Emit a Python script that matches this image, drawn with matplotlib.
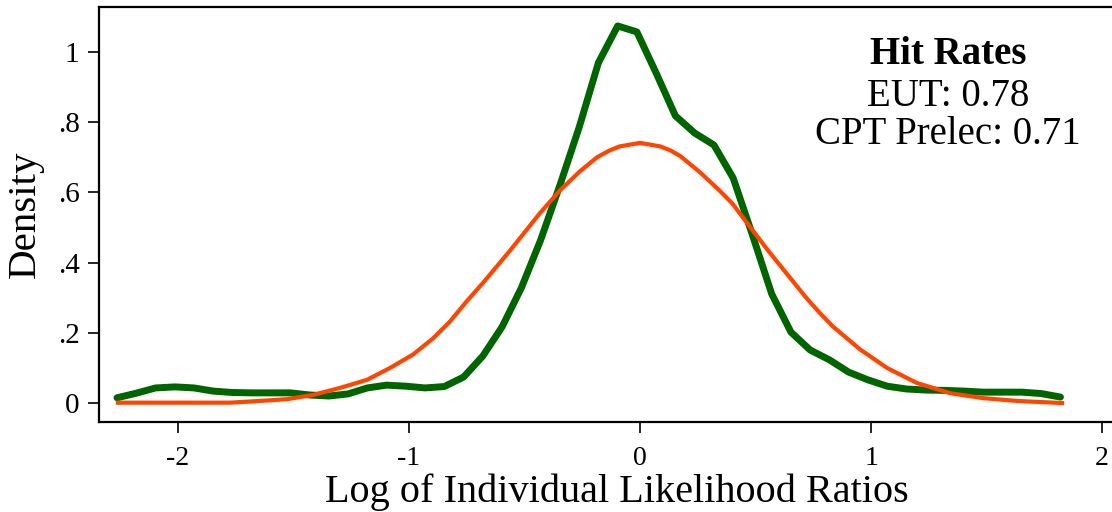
import numpy as np
import matplotlib
matplotlib.use("Agg")
import matplotlib.pyplot as plt

# Green series: kernel density (EUT), evaluated on 50 grid points
eut_x = np.linspace(-2.264, 1.82, 50)
eut_y = [0.015, 0.028, 0.043, 0.046, 0.043, 0.034, 0.030, 0.029, 0.029, 0.029,
         0.023, 0.020, 0.026, 0.043, 0.051, 0.048, 0.043, 0.047, 0.074, 0.134,
         0.217, 0.328, 0.464, 0.620, 0.785, 0.969, 1.074, 1.057, 0.940, 0.818,
         0.769, 0.735, 0.641, 0.479, 0.311, 0.202, 0.151, 0.123, 0.088, 0.066,
         0.048, 0.040, 0.037, 0.036, 0.034, 0.031, 0.031, 0.031, 0.027, 0.017]

# Orange series: CPT Prelec density
cpt_x = [-2.26, -1.775, -1.645, -1.528, -1.416, -1.299, -1.182, -1.082, -0.983,
         -0.896, -0.823, -0.75, -0.680, -0.563, -0.433, -0.346, -0.260, -0.186,
         -0.13, -0.087, 0.0, 0.087, 0.13, 0.173, 0.260, 0.346, 0.40, 0.463, 0.550,
         0.649, 0.723, 0.779, 0.835, 0.952, 1.069, 1.199, 1.342, 1.485, 1.632, 1.827]
cpt_y = [0.001, 0.001, 0.006, 0.011, 0.023, 0.043, 0.066, 0.100, 0.138,
         0.184, 0.232, 0.290, 0.342, 0.434, 0.541, 0.606, 0.660, 0.700,
         0.720, 0.731, 0.741, 0.731, 0.720, 0.704, 0.657, 0.604, 0.568, 0.513, 0.438,
         0.357, 0.297, 0.256, 0.218, 0.153, 0.100, 0.057, 0.028, 0.014, 0.006, 0.0]

x_ticks = [-2, -1, 0, 1, 2]
x_tick_labels = ["-2", "-1", "0", "1", "2"]
y_ticks = [0, 0.2, 0.4, 0.6, 0.8, 1.0]
y_tick_labels = ["0", ".2", ".4", ".6", ".8", "1"]

plt.rcParams['font.family'] = ['Liberation Serif', 'DejaVu Serif']
plt.rcParams['axes.unicode_minus'] = False

fig = plt.figure(figsize=(11.12, 5.12), dpi=100)
ax = fig.add_axes([99/1112, 1 - 422/512, 1 - 99/1112 + 0.02, (422 - 7)/512])

ax.plot(eut_x, eut_y, color='#006400', lw=5.0, solid_joinstyle='round', solid_capstyle='round', zorder=2)
ax.plot(cpt_x, cpt_y, color='#FF4500', lw=3.0, solid_joinstyle='round', zorder=3)

ax.set_xlim(-2.342, 2.043 + 0.02 * 1112 / 231)
ax.set_ylim(-0.054, 1.128)

ax.set_xticks(x_ticks)
ax.set_xticklabels(x_tick_labels)
ax.set_yticks(y_ticks)
ax.set_yticklabels(y_tick_labels)
ax.tick_params(axis='both', length=8, width=1.2, color='black', pad=6)
ax.tick_params(axis='x', labelsize=20, pad=9)
ax.tick_params(axis='y', labelsize=21)

for s in ax.spines.values():
    s.set_linewidth(1.6)
    s.set_color('black')
ax.spines['right'].set_visible(False)

ax.set_xlabel("Log of Individual Likelihood Ratios", fontsize=29, labelpad=2)
ax.set_ylabel("Density", fontsize=29.5, labelpad=10)

fig.text(948/1112, 1 - 54/512, "Hit Rates", fontsize=28, fontweight='bold',
         ha='center', va='center')
fig.text(948/1112, 1 - 96/512, "EUT: 0.78", fontsize=28, ha='center', va='center')
fig.text(948/1112, 1 - 135/512, "CPT Prelec: 0.71", fontsize=28, ha='center', va='center')

fig.savefig("out.png", dpi=100)
